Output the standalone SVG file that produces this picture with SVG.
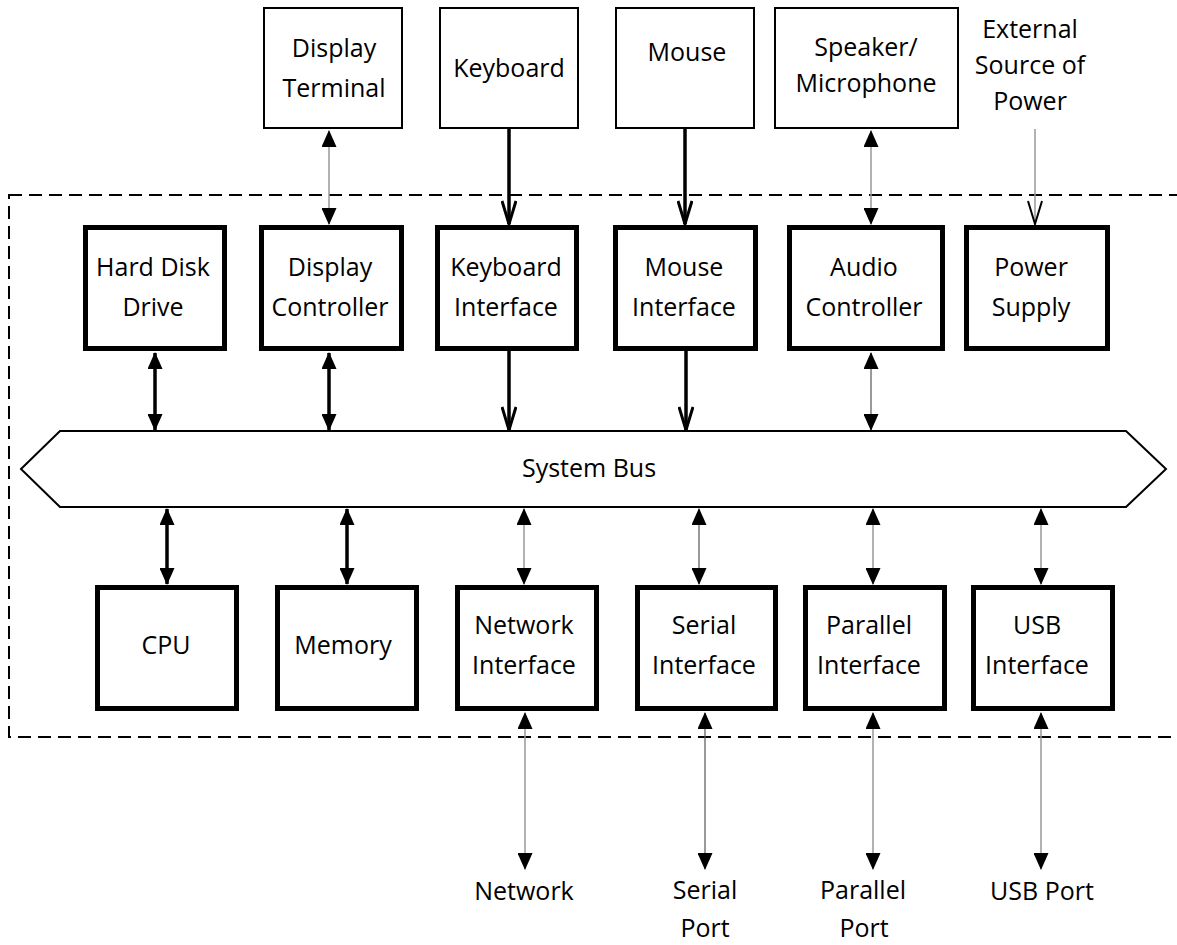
<svg xmlns="http://www.w3.org/2000/svg" width="1177" height="945" viewBox="0 0 1177 945">
<style>
  text { font-family: "Open Sans", "Liberation Sans", sans-serif; font-size: 25px; fill: #000; text-anchor: middle; }
  .ext { fill: #fff; stroke: #000; stroke-width: 2; }
  .int { fill: #fff; stroke: #000; stroke-width: 5; }
  .bus { fill: #fff; stroke: #000; stroke-width: 2; }
  .frame { fill: none; stroke: #000; stroke-width: 2; stroke-dasharray: 13 7; }
  .thick { stroke: #000; stroke-width: 3.5; fill: none; }
  .thin { stroke: #999; stroke-width: 1.5; fill: none; }
  .thind { stroke: #555; stroke-width: 1.2; fill: none; }
</style>
<defs>
  <marker id="tri" viewBox="0 0 17 15" refX="16" refY="7.5" markerWidth="17" markerHeight="15" markerUnits="userSpaceOnUse" orient="auto-start-reverse">
    <path d="M0,0 L17,7.5 L0,15 z" fill="#000"/>
  </marker>
  <marker id="vee" viewBox="0 0 26 16" refX="24" refY="8" markerWidth="26" markerHeight="16" markerUnits="userSpaceOnUse" orient="auto">
    <path d="M1,1 L24,8 L1,15" fill="none" stroke="#000" stroke-width="3"/>
  </marker>
  <marker id="veethin" viewBox="0 0 26 16" refX="24" refY="8" markerWidth="26" markerHeight="16" markerUnits="userSpaceOnUse" orient="auto">
    <path d="M1,1 L24,8 L1,15" fill="none" stroke="#000" stroke-width="2"/>
  </marker>
</defs>

<rect class="frame" x="9" y="195" width="1180" height="542"/>

<g id="connectors">
  <line class="thin" x1="329" y1="131" x2="329" y2="224" marker-start="url(#tri)" marker-end="url(#tri)"/>
  <line class="thick" x1="509" y1="129" x2="509" y2="224" marker-end="url(#vee)"/>
  <line class="thick" x1="685" y1="129" x2="685" y2="224" marker-end="url(#vee)"/>
  <line class="thin" x1="871" y1="131" x2="871" y2="224" marker-start="url(#tri)" marker-end="url(#tri)"/>
  <line class="thin" x1="1035" y1="129" x2="1035" y2="224" marker-end="url(#veethin)"/>

  <line class="thick" x1="155" y1="353" x2="155" y2="430" marker-start="url(#tri)" marker-end="url(#tri)"/>
  <line class="thick" x1="329" y1="353" x2="329" y2="430" marker-start="url(#tri)" marker-end="url(#tri)"/>
  <line class="thick" x1="509" y1="351" x2="509" y2="430" marker-end="url(#vee)"/>
  <line class="thick" x1="686" y1="351" x2="686" y2="430" marker-end="url(#vee)"/>
  <line class="thind" x1="871" y1="353" x2="871" y2="430" marker-start="url(#tri)" marker-end="url(#tri)"/>

  <line class="thick" x1="167" y1="509" x2="167" y2="584" marker-start="url(#tri)" marker-end="url(#tri)"/>
  <line class="thick" x1="347" y1="509" x2="347" y2="584" marker-start="url(#tri)" marker-end="url(#tri)"/>
  <line class="thin" x1="524" y1="509" x2="524" y2="584" marker-start="url(#tri)" marker-end="url(#tri)"/>
  <line class="thind" x1="699" y1="509" x2="699" y2="584" marker-start="url(#tri)" marker-end="url(#tri)"/>
  <line class="thin" x1="873" y1="509" x2="873" y2="584" marker-start="url(#tri)" marker-end="url(#tri)"/>
  <line class="thin" x1="1041" y1="509" x2="1041" y2="584" marker-start="url(#tri)" marker-end="url(#tri)"/>

  <line class="thin" x1="525" y1="713" x2="525" y2="869" marker-start="url(#tri)" marker-end="url(#tri)"/>
  <line class="thind" x1="705" y1="713" x2="705" y2="869" marker-start="url(#tri)" marker-end="url(#tri)"/>
  <line class="thin" x1="873" y1="713" x2="873" y2="869" marker-start="url(#tri)" marker-end="url(#tri)"/>
  <line class="thin" x1="1041" y1="713" x2="1041" y2="869" marker-start="url(#tri)" marker-end="url(#tri)"/>
</g>

<g id="display-terminal"><rect class="ext" x="264" y="8" width="138" height="120"/><text x="334" y="57">Display</text><text x="334" y="97">Terminal</text></g>
<g id="keyboard"><rect class="ext" x="440" y="8" width="138" height="120"/><text x="509" y="77">Keyboard</text></g>
<g id="mouse"><rect class="ext" x="616" y="8" width="138" height="120"/><text x="687" y="61">Mouse</text></g>
<g id="speaker"><rect class="ext" x="775" y="8" width="183" height="120"/><text x="866" y="56">Speaker/</text><text x="866" y="92">Microphone</text></g>
<g id="external-power"><text x="1030" y="38">External</text><text x="1030" y="74">Source of</text><text x="1030" y="110">Power</text></g>

<g id="hard-disk"><rect class="int" x="85.5" y="227.5" width="139" height="121"/><text x="153" y="276">Hard Disk</text><text x="153" y="316">Drive</text></g>
<g id="display-controller"><rect class="int" x="261.5" y="227.5" width="140" height="121"/><text x="330" y="276">Display</text><text x="330" y="316">Controller</text></g>
<g id="keyboard-interface"><rect class="int" x="437.5" y="227.5" width="139" height="121"/><text x="506" y="276">Keyboard</text><text x="506" y="316">Interface</text></g>
<g id="mouse-interface"><rect class="int" x="615.5" y="227.5" width="140" height="121"/><text x="684" y="276">Mouse</text><text x="684" y="316">Interface</text></g>
<g id="audio-controller"><rect class="int" x="789.5" y="227.5" width="153" height="121"/><text x="864" y="276">Audio</text><text x="864" y="316">Controller</text></g>
<g id="power-supply"><rect class="int" x="966.5" y="227.5" width="141" height="121"/><text x="1031" y="276">Power</text><text x="1031" y="316">Supply</text></g>

<g id="system-bus"><polygon class="bus" points="21,469 60,431 1126,431 1166,469 1126,507 60,507"/><text x="589" y="477">System Bus</text></g>

<g id="cpu"><rect class="int" x="97.5" y="587.5" width="139" height="121"/><text x="166" y="654">CPU</text></g>
<g id="memory"><rect class="int" x="277.5" y="587.5" width="139" height="121"/><text x="343" y="654">Memory</text></g>
<g id="network-interface"><rect class="int" x="457.5" y="587.5" width="139" height="121"/><text x="524" y="634">Network</text><text x="524" y="674">Interface</text></g>
<g id="serial-interface"><rect class="int" x="637.5" y="587.5" width="138" height="121"/><text x="704" y="634">Serial</text><text x="704" y="674">Interface</text></g>
<g id="parallel-interface"><rect class="int" x="805.5" y="587.5" width="139" height="121"/><text x="869" y="634">Parallel</text><text x="869" y="674">Interface</text></g>
<g id="usb-interface"><rect class="int" x="973.5" y="587.5" width="139" height="121"/><text x="1037" y="634">USB</text><text x="1037" y="674">Interface</text></g>

<g id="network"><text x="524" y="900">Network</text></g>
<g id="serial-port"><text x="705" y="899">Serial</text><text x="705" y="937">Port</text></g>
<g id="parallel-port"><text x="863" y="899">Parallel</text><text x="864" y="937">Port</text></g>
<g id="usb-port"><text x="1042" y="900">USB Port</text></g>
</svg>
